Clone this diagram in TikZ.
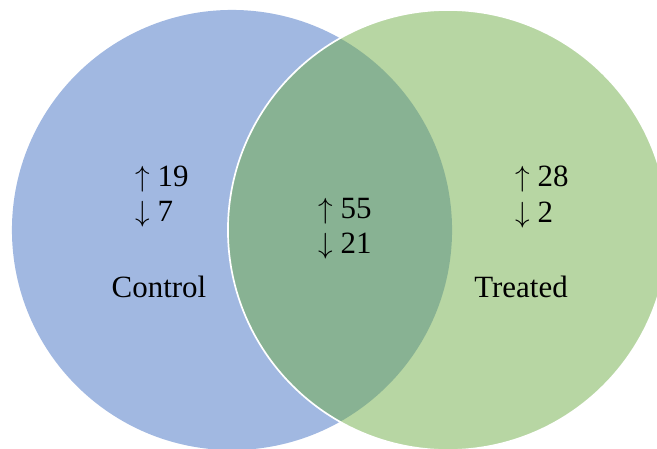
\documentclass[tikz,border=0pt]{standalone}
\usepackage{fontspec}
\setmainfont{Liberation Serif}
\usepackage{tikz}
\definecolor{ctrlblue}{HTML}{4472C4}
\definecolor{trtgreen}{HTML}{70AD47}
\begin{document}
\begin{tikzpicture}[x=0.025cm,y=-0.025cm,cnt/.style={align=left,font=\fontsize{22}{25}\selectfont},lab/.style={font=\fontsize{22}{25}\selectfont}]
\useasboundingbox (0,0) rectangle (657,448);
\clip (0,0) rectangle (657,448);
\fill[ctrlblue,opacity=0.5] (232,230) circle (5.5cm);
\fill[trtgreen,opacity=0.5] (448,230) circle (5.5cm);
\draw[white,line width=1.2pt] (448,230) circle (5.5cm);
\node[cnt] (c1) at (162,197) {$\uparrow$ 19\\$\downarrow$ 7};
\node[cnt] (c2) at (345,229) {$\uparrow$ 55\\$\downarrow$ 21};
\node[cnt] (c3) at (542,197) {$\uparrow$ 28\\$\downarrow$ 2};
\node[lab] (ctrl) at (159,287) {Control};
\node[lab] (trt) at (521,287) {Treated};
\end{tikzpicture}
\end{document}
